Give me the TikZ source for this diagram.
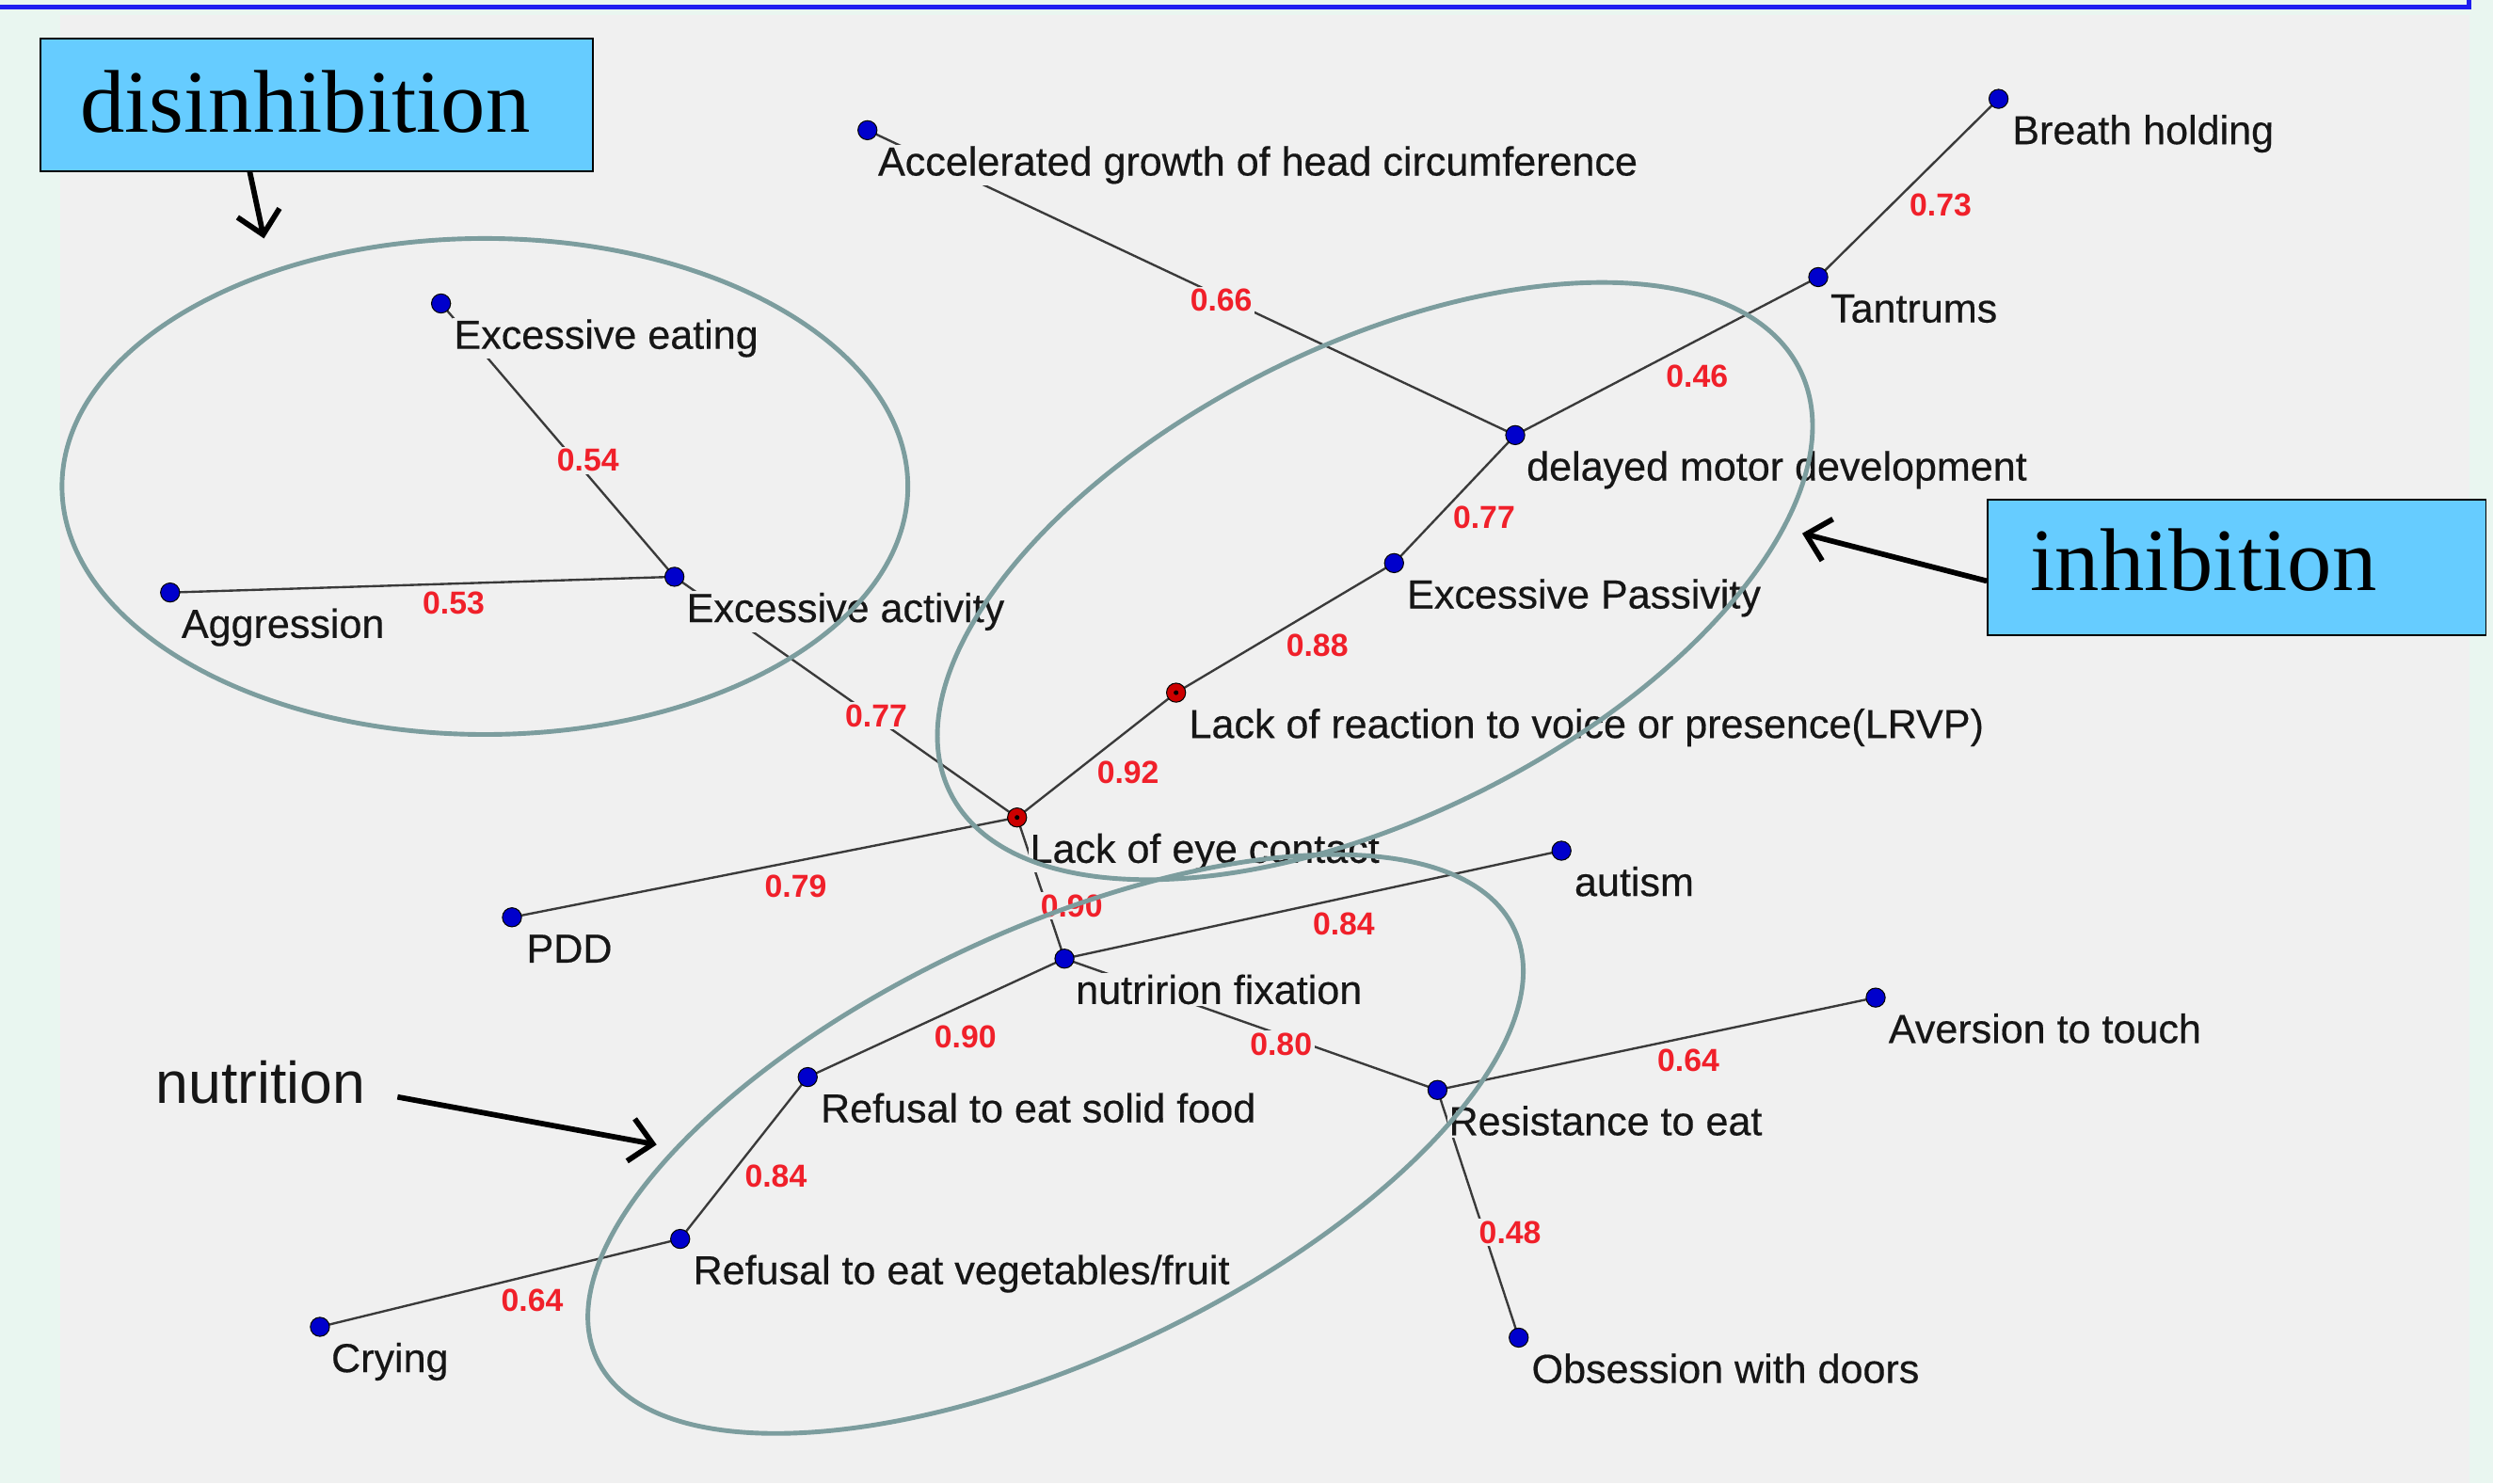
\documentclass[tikz,border=0pt]{standalone}
\usepackage{fontspec}
\setmainfont{Liberation Serif}
\setsansfont{Liberation Sans}
\newfontfamily\lblfont[FakeBold=0.4]{Liberation Sans}
\newfontfamily\numfont{Liberation Sans}
\usetikzlibrary{arrows.meta}
\definecolor{mint}{HTML}{E9F6F0}
\definecolor{panel}{HTML}{F0F0F0}
\definecolor{bord}{HTML}{1E1EF0}
\definecolor{ellcol}{HTML}{7C9D9E}
\definecolor{dotblue}{HTML}{0000CC}
\definecolor{dotred}{HTML}{CC0000}
\definecolor{wred}{HTML}{F0202A}
\definecolor{boxblue}{HTML}{66CCFF}
\definecolor{edgegray}{HTML}{3A3A3A}
\definecolor{txt}{HTML}{161616}
\pgfdeclarelayer{bglayer}
\pgfdeclarelayer{edgelayer}
\pgfdeclarelayer{lbllayer}
\pgfdeclarelayer{fglayer}
\pgfsetlayers{bglayer,edgelayer,lbllayer,main,fglayer}
\tikzset{
  dotb/.style={circle, draw=black, line width=0.6pt, fill=dotblue, minimum size=12pt, inner sep=0pt},
  dotr/.style={dotb, fill=dotred, path picture={\fill[black] (path picture bounding box.center) circle (1.5pt);}},
  lbl/.style={font=\fontsize{25.5}{28}\selectfont\lblfont, text=txt, fill=panel, inner sep=1pt, anchor=base west},
  elab/.style={font=\fontsize{20}{22}\selectfont\numfont\bfseries, text=wred, fill=panel, inner sep=1.5pt},
  edge/.style={draw=edgegray, line width=1.4pt},
  grp/.style={draw=ellcol, line width=2.9pt},
  callout/.style={draw=black, line width=3.4pt, -{Straight Barb[length=14pt,width=27pt]}},
  tagbox/.style={draw=black, line width=1pt, fill=boxblue, inner sep=0pt},
  tagtext/.style={font=\fontsize{56}{60}\selectfont, text=black, inner sep=0pt, anchor=base west},
}
\begin{document}
\begin{tikzpicture}[x=1pt,y=-1pt]
\useasboundingbox (0,0) rectangle (1568,933);
\begin{pgfonlayer}{bglayer}
  \fill[mint] (0,0) rectangle (1568,933);
  \fill[panel] (38,9.5) rectangle (1553,933);
  \draw[bord, line width=3pt] (0,4.5) -- (1553,4.5) -- (1553,0);
\end{pgfonlayer}

% nodes (dots)
\node[dotb] (acc) at (545.6,81.9) {};
\node[dotb] (bre) at (1257,62.2) {};
\node[dotb] (tan) at (1143.6,174.3) {};
\node[dotb] (dmd) at (953,273.7) {};
\node[dotb] (eea) at (277.4,190.9) {};
\node[dotb] (eac) at (424.2,362.8) {};
\node[dotb] (agg) at (107,372.7) {};
\node[dotb] (epa) at (876.8,354.2) {};
\node[dotr] (lrv) at (739.7,435.7) {};
\node[dotr] (lec) at (639.7,514.2) {};
\node[dotb] (aut) at (982.1,535.1) {};
\node[dotb] (pdd) at (322,577) {};
\node[dotb] (nfx) at (669.5,603) {};
\node[dotb] (ave) at (1179.7,627.5) {};
\node[dotb] (rsf) at (508,677.5) {};
\node[dotb] (res) at (904.1,685.6) {};
\node[dotb] (rvf) at (427.8,779.3) {};
\node[dotb] (cry) at (201.2,834.6) {};
\node[dotb] (obs) at (955.2,841.4) {};

% edges
\begin{pgfonlayer}{edgelayer}
  \draw[edge] (acc.center) -- (dmd.center);
  \draw[edge] (bre.center) -- (tan.center);
  \draw[edge] (tan.center) -- (dmd.center);
  \draw[edge] (dmd.center) -- (epa.center);
  \draw[edge] (epa.center) -- (lrv.center);
  \draw[edge] (lrv.center) -- (lec.center);
  \draw[edge] (eea.center) -- (eac.center);
  \draw[edge] (agg.center) -- (eac.center);
  \draw[edge] (eac.center) -- (lec.center);
  \draw[edge] (pdd.center) -- (lec.center);
  \draw[edge] (lec.center) -- (nfx.center);
  \draw[edge] (aut.center) -- (nfx.center);
  \draw[edge] (nfx.center) -- (rsf.center);
  \draw[edge] (nfx.center) -- (res.center);
  \draw[edge] (ave.center) -- (res.center);
  \draw[edge] (res.center) -- (obs.center);
  \draw[edge] (rsf.center) -- (rvf.center);
  \draw[edge] (rvf.center) -- (cry.center);
\end{pgfonlayer}

% labels
\begin{pgfonlayer}{lbllayer}
  \node[lbl] (accL) at ([xshift=5.5pt,yshift=-28.5pt]acc.center) {Accelerated growth of head circumference};
  \node[lbl] (breL) at ([xshift=7.5pt,yshift=-28.5pt]bre.center) {Breath holding};
  \node[lbl] (tanL) at ([xshift=6.5pt,yshift=-28.5pt]tan.center) {Tantrums};
  \node[lbl] (dmdL) at ([xshift=6pt,yshift=-28.5pt]dmd.center) {delayed motor development};
  \node[lbl] (eeaL) at ([xshift=7pt,yshift=-28.5pt]eea.center) {Excessive eating};
  \node[lbl] (eacL) at ([xshift=6.5pt,yshift=-28.5pt]eac.center) {Excessive activity};
  \node[lbl] (aggL) at ([xshift=6pt,yshift=-28.5pt]agg.center) {Aggression};
  \node[lbl] (epaL) at ([xshift=7pt,yshift=-28.5pt]epa.center) {Excessive Passivity};
  \node[lbl] (lrvL) at ([xshift=7pt,yshift=-28.5pt]lrv.center) {Lack of reaction to voice or presence(LRVP)};
  \node[lbl] (lecL) at ([xshift=7pt,yshift=-28.5pt]lec.center) {Lack of eye contact};
  \node[lbl] (autL) at ([xshift=7pt,yshift=-28.5pt]aut.center) {autism};
  \node[lbl] (pddL) at ([xshift=8pt,yshift=-28.5pt]pdd.center) {PDD};
  \node[lbl] (nfxL) at ([xshift=6pt,yshift=-28.5pt]nfx.center) {nutririon fixation};
  \node[lbl] (aveL) at ([xshift=7pt,yshift=-28.5pt]ave.center) {Aversion to touch};
  \node[lbl] (rsfL) at ([xshift=7pt,yshift=-28.5pt]rsf.center) {Refusal to eat solid food};
  \node[lbl] (resL) at ([xshift=6pt,yshift=-28.5pt]res.center) {Resistance to eat};
  \node[lbl] (rvfL) at ([xshift=7pt,yshift=-28.5pt]rvf.center) {Refusal to eat vegetables/fruit};
  \node[lbl] (cryL) at ([xshift=6pt,yshift=-28.5pt]cry.center) {Crying};
  \node[lbl] (obsL) at ([xshift=7pt,yshift=-28.5pt]obs.center) {Obsession with doors};

  \node[elab] (w1) at (768.1,189) {0.66};
  \node[elab] (w2) at (1220.5,129) {0.73};
  \node[elab] (w3) at (1067.4,236.4) {0.46};
  \node[elab] (w4) at (933.4,325.7) {0.77};
  \node[elab] (w5) at (828.5,406.2) {0.88};
  \node[elab] (w6) at (709.5,486) {0.92};
  \node[elab] (w7) at (369.8,289.5) {0.54};
  \node[elab] (w8) at (285.3,379.2) {0.53};
  \node[elab] (w9) at (551.1,450.4) {0.77};
  \node[elab] (w10) at (500.5,557.3) {0.79};
  \node[elab] (w11) at (674,569.7) {0.90};
  \node[elab] (w12) at (845.2,581.1) {0.84};
  \node[elab] (w13) at (607.2,652.4) {0.90};
  \node[elab] (w14) at (805.7,656.9) {0.80};
  \node[elab] (w15) at (1061.9,667) {0.64};
  \node[elab] (w16) at (949.8,775.3) {0.48};
  \node[elab] (w17) at (488,739.7) {0.84};
  \node[elab] (w18) at (334.7,817.9) {0.64};
\end{pgfonlayer}

\begin{pgfonlayer}{fglayer}
  % group ellipses
  \draw[grp] (305,306) ellipse [x radius=266, y radius=156];
  \draw[grp, rotate around={26.5:(864.8,365.5)}] (864.8,365.5) ellipse [x radius=298.5, y radius=148];
  \draw[grp, rotate around={25.1:(663.9,719.6)}] (663.9,719.6) ellipse [x radius=318.6, y radius=134.7];

  % tag boxes
  \node[tagbox, minimum width=347.5pt, minimum height=83.4pt, anchor=north west] (dbox) at (25.1,23.7) {};
  \node[tagtext] (dtext) at (50.2,82.9) {disinhibition};
  \node[tagbox, minimum width=313.5pt, minimum height=85.5pt, anchor=north west] (ibox) at (1249.6,313.7) {};
  \node[tagtext] (itext) at (1276.8,371.5) {inhibition};
  \node[font=\fontsize{37}{40}\selectfont\numfont, text=txt, inner sep=0pt, anchor=base west] (ntext) at (98,694) {nutrition};

  % callout arrows
  \coordinate (dtip) at (166,150);
  \coordinate (itip) at (1133.5,335.5);
  \coordinate (ntail) at (250,690);
  \coordinate (ntip) at (413,720);
  \draw[callout] ([xshift=132pt]dbox.south west) -- (dtip);
  \draw[callout] ([yshift=-8.5pt]ibox.west) -- (itip);
  \draw[callout] (ntail) -- (ntip);
\end{pgfonlayer}
\end{tikzpicture}
\end{document}
